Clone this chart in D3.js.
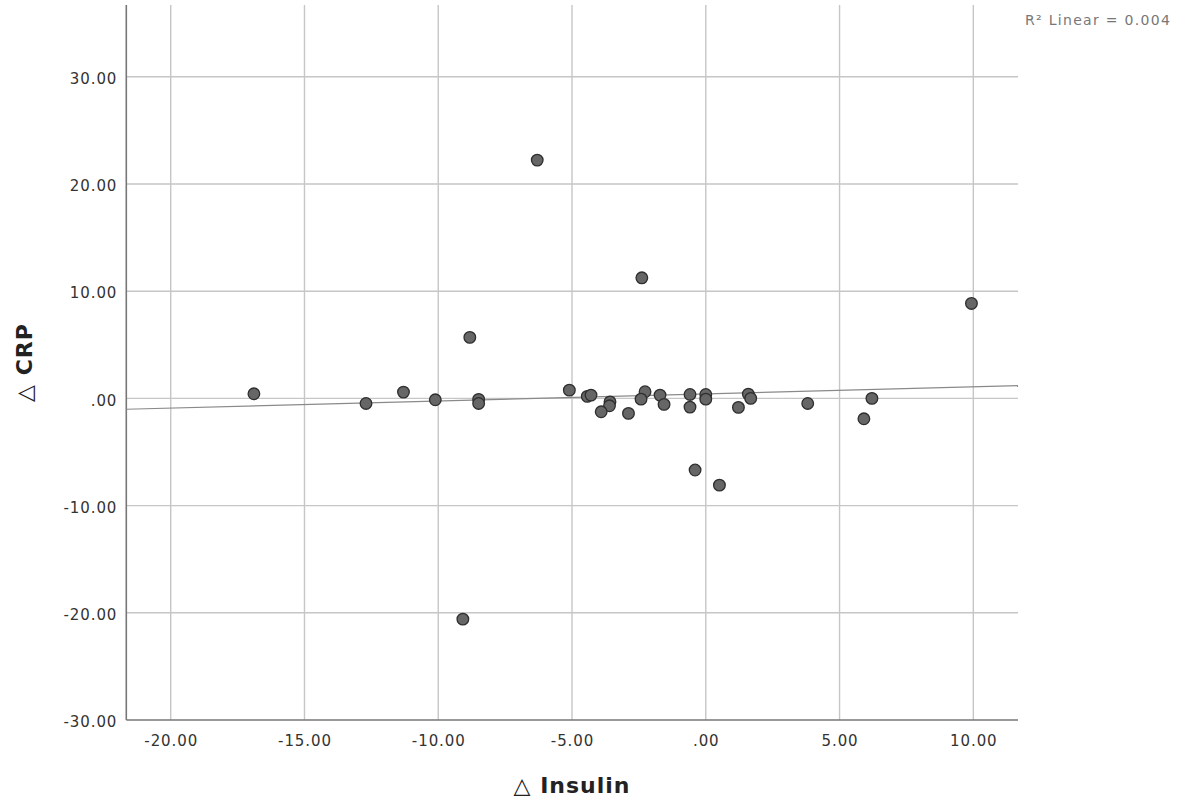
<!DOCTYPE html>
<html>
<head>
<meta charset="utf-8">
<script src="https://cdn.jsdelivr.net/npm/d3@7"></script>
<style>
  html, body { margin: 0; padding: 0; background: #fff; }
  svg { display: block; }
  .tick-label { font-family: "DejaVu Sans", sans-serif; font-size: 15px; fill: #333; letter-spacing: 0.9px; }
  .axis-title { font-family: "DejaVu Sans", sans-serif; font-size: 22px; font-weight: bold; fill: #222; letter-spacing: 1px; }
  .fit-label { font-family: "DejaVu Sans", sans-serif; font-size: 14px; fill: #777; letter-spacing: 1.3px; }
</style>
</head>
<body>
<svg id="chart" width="1187" height="804"></svg>
<script>
// Change in insulin (x) and change in CRP (y), one entry per subject
const insulinChange = [
  -16.89, -12.70, -11.30, -10.11, -8.49, -8.49, -8.82, -9.08, -6.30,
  -5.10, -4.43, -4.29, -3.58, -3.60, -3.91, -2.89, -2.27, -2.42, -2.39,
  -1.71, -1.56, -0.59, -0.59, 0.00, 0.00, 1.22, 1.59, 1.68, 3.81,
  -0.40, 0.51, 5.91, 6.21, 9.93
];
const crpChange = [
  0.43, -0.47, 0.59, -0.13, -0.09, -0.47, 5.69, -20.59, 22.23,
  0.77, 0.19, 0.31, -0.32, -0.69, -1.25, -1.40, 0.62, -0.07, 11.25,
  0.31, -0.56, 0.37, -0.81, 0.37, -0.07, -0.84, 0.40, 0.00, -0.47,
  -6.68, -8.09, -1.90, 0.00, 8.86
];

const xTickValues = [-20, -15, -10, -5, 0, 5, 10];
const xTickLabels = ["-20.00", "-15.00", "-10.00", "-5.00", ".00", "5.00", "10.00"];
const yTickValues = [30, 20, 10, 0, -10, -20, -30];
const yTickLabels = ["30.00", "20.00", "10.00", ".00", "-10.00", "-20.00", "-30.00"];

const xTitle = "\u25B3 Insulin";
const yTitle = "\u25B3 CRP";
const fitText = "R\u00B2 Linear = 0.004";

const svg = d3.select("#chart");

const plot = { left: 126.3, right: 1018, top: 5, bottom: 720 };

const x = d3.scaleLinear().domain([-21.66, 11.67]).range([plot.left, plot.right]);
const y = d3.scaleLinear().domain([-30, 36.7]).range([plot.bottom, plot.top]);

// Grid lines
const grid = svg.append("g");
grid.selectAll("line.vx").data(xTickValues).join("line")
  .attr("x1", d => x(d)).attr("x2", d => x(d))
  .attr("y1", plot.top).attr("y2", plot.bottom)
  .attr("stroke", "#c6c6c6").attr("stroke-width", 1.4);
grid.selectAll("line.hy").data(yTickValues.filter(v => v > -30)).join("line")
  .attr("x1", plot.left).attr("x2", plot.right)
  .attr("y1", d => y(d)).attr("y2", d => y(d))
  .attr("stroke", "#c6c6c6").attr("stroke-width", 1.4);

// Axes (no tick marks, labels only)
const xAxis = d3.axisBottom(x).tickValues(xTickValues).tickSize(0)
  .tickFormat((d, i) => xTickLabels[i]).tickPadding(15);
const yAxis = d3.axisLeft(y).tickValues(yTickValues).tickSize(0)
  .tickFormat((d, i) => yTickLabels[i]).tickPadding(9);

const gx = svg.append("g").attr("transform", `translate(0,${plot.bottom})`).call(xAxis);
const gy = svg.append("g").attr("transform", `translate(${plot.left},0)`).call(yAxis);
[gx, gy].forEach(g => {
  g.select(".domain").remove();
  g.selectAll("text").attr("class", "tick-label").attr("font-size", null).attr("font-family", null);
});
gy.selectAll("text").attr("dy", "0.45em");

svg.append("line")
  .attr("x1", plot.left).attr("x2", plot.left)
  .attr("y1", plot.top).attr("y2", plot.bottom)
  .attr("stroke", "#777").attr("stroke-width", 1.6);
svg.append("line")
  .attr("x1", plot.left).attr("x2", plot.right)
  .attr("y1", plot.bottom).attr("y2", plot.bottom)
  .attr("stroke", "#777").attr("stroke-width", 1.6);

// Least-squares fit line across the full x range
const n = insulinChange.length;
const mx = d3.mean(insulinChange), my = d3.mean(crpChange);
let sxy = 0, sxx = 0;
for (let i = 0; i < n; i++) {
  sxy += (insulinChange[i] - mx) * (crpChange[i] - my);
  sxx += (insulinChange[i] - mx) ** 2;
}
const slope = sxy / sxx, intercept = my - slope * mx;
const [x0, x1] = x.domain();
svg.append("line")
  .attr("x1", x(x0)).attr("y1", y(intercept + slope * x0))
  .attr("x2", x(x1)).attr("y2", y(intercept + slope * x1))
  .attr("stroke", "#8a8a8a").attr("stroke-width", 1.2);

// Points
const points = insulinChange.map((v, i) => ({ x: v, y: crpChange[i] }));
svg.append("g").selectAll("circle").data(points).join("circle")
  .attr("cx", d => x(d.x)).attr("cy", d => y(d.y)).attr("r", 5.8)
  .attr("fill", "#666").attr("stroke", "#2e2e2e").attr("stroke-width", 1.3);

// Titles
svg.append("text").attr("class", "axis-title")
  .attr("x", x(-5)).attr("y", 793).attr("text-anchor", "middle")
  .text(xTitle);
svg.append("text").attr("class", "axis-title")
  .attr("transform", `translate(32,${(plot.top + plot.bottom) / 2}) rotate(-90)`)
  .attr("text-anchor", "middle")
  .text(yTitle);

svg.append("text").attr("class", "fit-label")
  .attr("x", 1025).attr("y", 25)
  .text(fitText);
</script>
</body>
</html>
